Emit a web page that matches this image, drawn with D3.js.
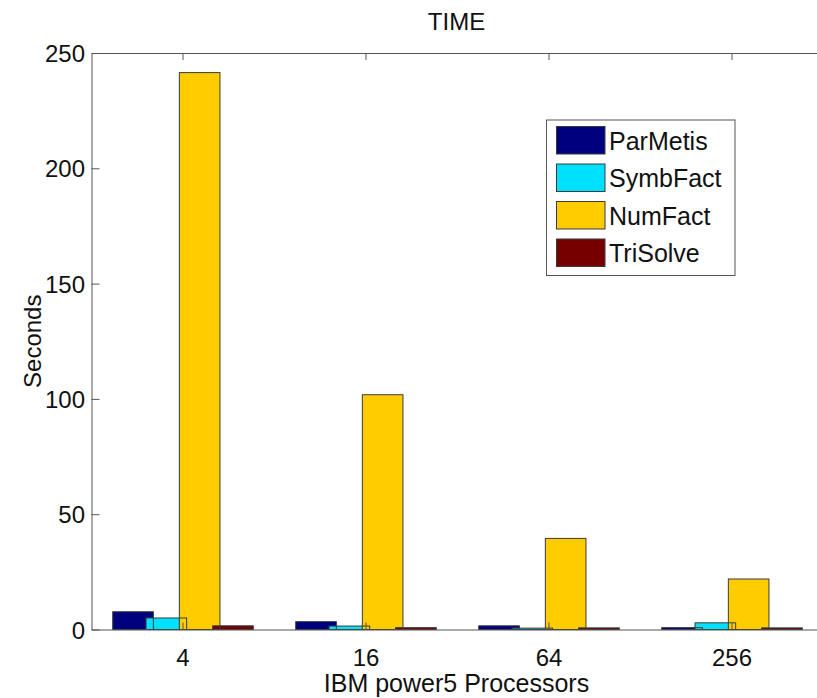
<!DOCTYPE html>
<html>
<head>
<meta charset="utf-8">
<script src="https://cdn.jsdelivr.net/npm/d3@7/dist/d3.min.js"></script>
<style>
  html, body { margin: 0; padding: 0; background: #fff; }
  svg { display: block; font-family: "Liberation Sans", Arial, Helvetica, sans-serif; }
</style>
</head>
<body>
<svg id="chart" width="817" height="698"></svg>
<script>
// Processor counts on the x axis
const categories = ["4", "16", "64", "256"];
// Phase names in legend order
const seriesNames = ["ParMetis", "SymbFact", "NumFact", "TriSolve"];
// Seconds per phase, one array per phase, aligned with categories
const parMetis = [7.7, 3.4, 1.6, 0.8];
const symbFact = [5.0, 1.5, 0.6, 2.9];
const numFact = [241.5, 101.8, 39.5, 21.9];
const triSolve = [1.6, 0.8, 0.7, 0.7];
const yTicks = [0, 50, 100, 150, 200, 250];

const seriesValues = [parMetis, symbFact, numFact, triSolve];
const colors = ["#00007f", "#00e1ff", "#ffcc00", "#740000"];

const svg = d3.select("#chart");
const W = 817, H = 698;
const plot = { left: 91.5, right: 823.5, top: 53, bottom: 629.5 };

const x = d3.scaleBand().domain(categories).range([plot.left, plot.right]).padding(0);
const y = d3.scaleLinear().domain([0, 250]).range([plot.bottom, plot.top]);

// Grouped bar layout: bars spaced by a fraction of the band, slightly overlapping
const step = x.bandwidth() * 0.182;
const barW = x.bandwidth() * 0.222;
const n = seriesNames.length;
const offset = i => (i - (n - 1) / 2) * step;

const rows = [];
seriesValues.forEach((vals, si) => {
  vals.forEach((v, ci) => rows.push({ si, cat: categories[ci], v }));
});

svg.append("defs").append("clipPath").attr("id", "clip")
  .append("rect").attr("x", 0).attr("y", 0).attr("width", W).attr("height", H);

const g = svg.append("g").attr("clip-path", "url(#clip)");

// Fills first, then outlines on top
g.append("g").selectAll("rect").data(rows).join("rect")
  .attr("x", d => x(d.cat) + x.bandwidth() / 2 + offset(d.si) - barW / 2)
  .attr("y", d => y(d.v))
  .attr("width", barW)
  .attr("height", d => y(0) - y(d.v))
  .attr("fill", d => colors[d.si]);

g.append("g").selectAll("rect").data(rows).join("rect")
  .attr("x", d => x(d.cat) + x.bandwidth() / 2 + offset(d.si) - barW / 2)
  .attr("y", d => y(d.v))
  .attr("width", barW)
  .attr("height", d => y(0) - y(d.v))
  .attr("fill", "none")
  .attr("stroke", "#3a3a3a")
  .attr("stroke-width", 1);

// Axes box (left, top, bottom)
const axisColor = "#555";
const yAxis = d3.axisLeft(y).tickValues(yTicks).tickSizeInner(-8).tickSizeOuter(0).tickPadding(6.5);
const yg = svg.append("g").attr("transform", `translate(${plot.left},0)`).call(yAxis);
yg.select(".domain").attr("stroke", axisColor);
yg.selectAll(".tick line").attr("stroke", axisColor);
yg.selectAll(".tick text").attr("fill", "#111").attr("font-size", 24).attr("dy", "0.36em");

const xAxis = d3.axisBottom(x).tickSizeInner(-7).tickSizeOuter(0).tickPadding(19);
const xg = svg.append("g").attr("transform", `translate(0,${plot.bottom})`).call(xAxis);
xg.select(".domain").attr("stroke", axisColor);
xg.selectAll(".tick line").attr("stroke", axisColor);
xg.selectAll(".tick text").attr("fill", "#111").attr("font-size", 24);

const xTop = d3.axisTop(x).tickSizeInner(-7).tickSizeOuter(0).tickFormat("");
const xtg = svg.append("g").attr("transform", `translate(0,${plot.top})`).call(xTop);
xtg.select(".domain").attr("stroke", axisColor);
xtg.selectAll(".tick line").attr("stroke", axisColor);

// Titles
svg.append("text").attr("x", (plot.left + plot.right) / 2 - 1).attr("y", 30)
  .attr("text-anchor", "middle").attr("font-size", 24).attr("fill", "#111").text("TIME");
svg.append("text").attr("x", (plot.left + plot.right) / 2 - 1).attr("y", 692)
  .attr("text-anchor", "middle").attr("font-size", 25).attr("fill", "#111").text("IBM power5 Processors");
svg.append("text").attr("transform", `translate(41,${(plot.top + plot.bottom) / 2}) rotate(-90)`)
  .attr("text-anchor", "middle").attr("font-size", 24).attr("fill", "#111").text("Seconds");

// Legend
const leg = svg.append("g").attr("transform", "translate(546.5,120)");
leg.append("rect").attr("width", 188.5).attr("height", 155.5)
  .attr("fill", "#fff").attr("stroke", "#555").attr("stroke-width", 1);
const item = leg.selectAll("g.item").data(seriesNames).join("g")
  .attr("class", "item")
  .attr("transform", (d, i) => `translate(10,${6.5 + i * 37.5})`);
item.append("rect").attr("width", 48.5).attr("height", 27.5)
  .attr("fill", (d, i) => colors[i]).attr("stroke", "#3a3a3a");
item.append("text").attr("x", 52.5).attr("y", 14).attr("dy", "0.36em")
  .attr("font-size", 25).attr("fill", "#111").text(d => d);
</script>
</body>
</html>
